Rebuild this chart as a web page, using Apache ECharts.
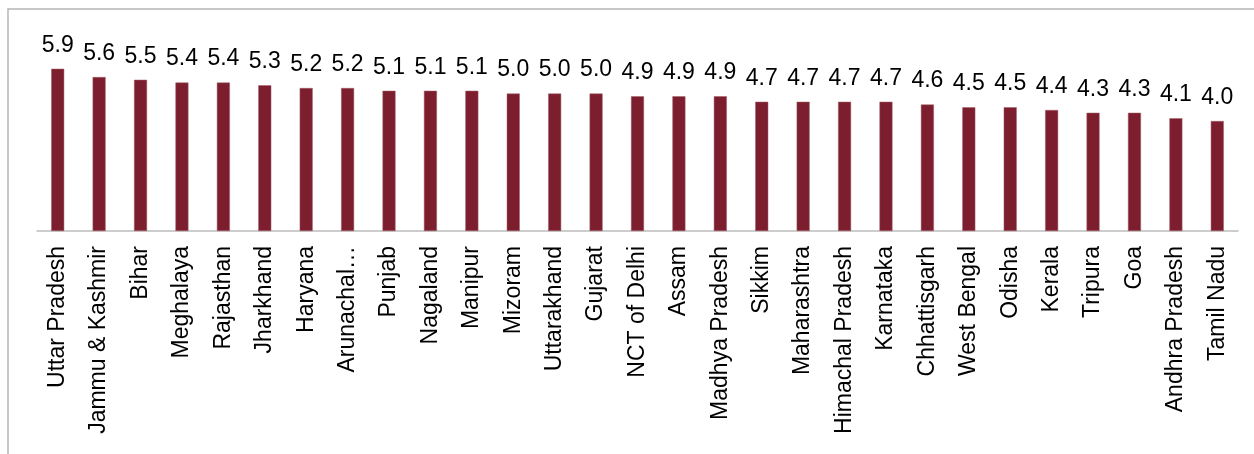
<!DOCTYPE html>
<html>
<head>
<meta charset="utf-8">
<script src="https://cdn.jsdelivr.net/npm/echarts@6/dist/echarts.min.js"></script>
<style>
  html, body { margin: 0; padding: 0; background: #fff; }
  #chart { width: 1254px; height: 454px; }
</style>
</head>
<body>
<div id="chart"></div>
<script>
const states = [
  'Uttar Pradesh', 'Jammu & Kashmir', 'Bihar', 'Meghalaya', 'Rajasthan', 'Jharkhand',
  'Haryana', 'Arunachal Pradesh', 'Punjab', 'Nagaland', 'Manipur', 'Mizoram',
  'Uttarakhand', 'Gujarat', 'NCT of Delhi', 'Assam', 'Madhya Pradesh', 'Sikkim',
  'Maharashtra', 'Himachal Pradesh', 'Karnataka', 'Chhattisgarh', 'West Bengal',
  'Odisha', 'Kerala', 'Tripura', 'Goa', 'Andhra Pradesh', 'Tamil Nadu'
];
const values = [
  5.9, 5.6, 5.5, 5.4, 5.4, 5.3, 5.2, 5.2, 5.1, 5.1, 5.1, 5.0, 5.0, 5.0, 4.9,
  4.9, 4.9, 4.7, 4.7, 4.7, 4.7, 4.6, 4.5, 4.5, 4.4, 4.3, 4.3, 4.1, 4.0
];

let myChart = echarts.init(document.getElementById('chart'));
let option = {
  animation: false,
  textStyle: { fontFamily: 'Liberation Sans, Arial, sans-serif' },
  // chart area frame (cut off at right/bottom edge)
  graphic: [
    {
      type: 'rect',
      shape: { x: 8, y: 9, width: 1260, height: 460 },
      style: { fill: 'none', stroke: '#b5b5b5', lineWidth: 1.5 },
      silent: true
    }
  ],
  grid: { left: 37, right: 16, top: 11, bottom: 223 },
  xAxis: {
    type: 'category',
    data: states,
    axisTick: { show: false },
    axisLine: { lineStyle: { color: '#bdbdbd', width: 1.5 } },
    axisLabel: {
      rotate: 90,
      interval: 0,
      margin: 15,
      color: '#000',
      fontSize: 23,
      formatter: function (v) {
        // long name gets cut like in the original
        return v.length > 16 ? v.slice(0, 9) + '…' : v;
      }
    }
  },
  yAxis: {
    type: 'value',
    min: 0,
    max: 8,
    show: false,
    splitLine: { show: false }
  },
  series: [
    {
      type: 'bar',
      data: values,
      barWidth: 13,
      itemStyle: { color: '#7d1e2e', borderColor: '#a0606a', borderWidth: 0.5 },
      label: {
        show: true,
        position: 'top',
        distance: 12,
        color: '#000',
        fontSize: 23,
        formatter: function (p) { return p.value.toFixed(1); }
      }
    }
  ]
};
myChart.setOption(option, true);
window.addEventListener('resize', () => {
  myChart.resize();
});
</script>
</body>
</html>
